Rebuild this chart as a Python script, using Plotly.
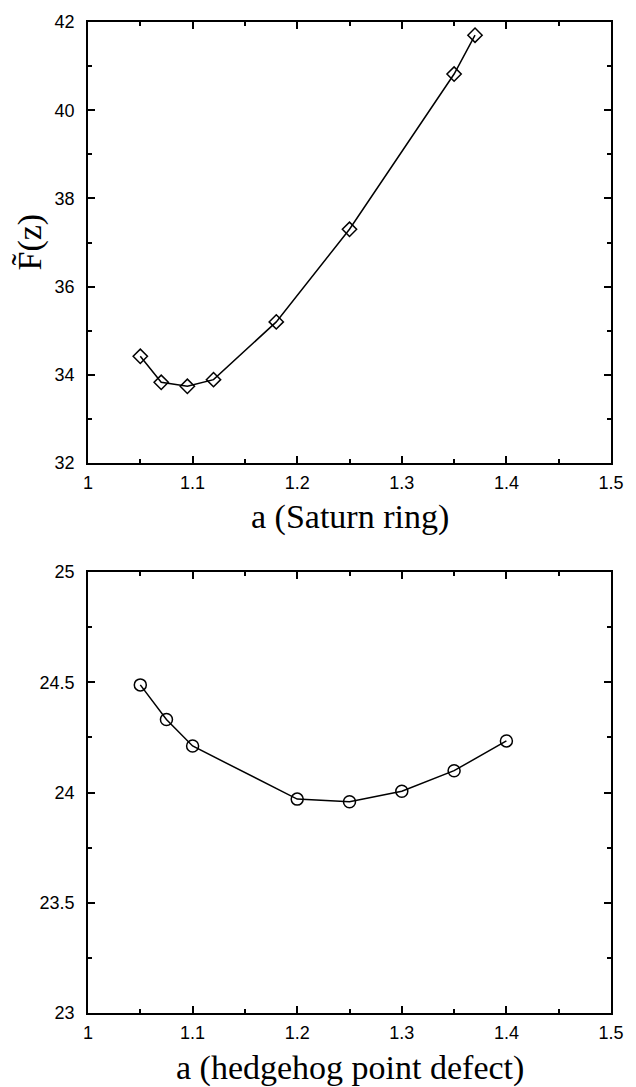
import plotly.graph_objects as go

# Top panel: Saturn ring
a_saturn = [1.05, 1.07, 1.095, 1.12, 1.18, 1.25, 1.35, 1.37]
F_saturn = [34.42, 33.83, 33.74, 33.89, 35.20, 37.30, 40.82, 41.70]

# Bottom panel: hedgehog point defect
a_hedgehog = [1.05, 1.075, 1.1, 1.2, 1.25, 1.3, 1.35, 1.4]
F_hedgehog = [24.488, 24.331, 24.211, 23.970, 23.958, 24.006, 24.099, 24.234]

x_ticks = [1, 1.1, 1.2, 1.3, 1.4, 1.5]
x_ticklabels = ["1", "1.1", "1.2", "1.3", "1.4", "1.5"]
top_y_ticks = [32, 34, 36, 38, 40, 42]
bot_y_ticks = [23, 23.5, 24, 24.5, 25]
bot_y_ticklabels = ["23", "23.5", "24", "24.5", "25"]

fig = go.Figure()
fig.add_trace(go.Scatter(
    x=a_saturn, y=F_saturn, mode="lines+markers",
    line=dict(color="black", width=1.5),
    marker=dict(symbol="diamond-open", size=11, color="black", line=dict(width=1.5)),
    xaxis="x", yaxis="y", showlegend=False))
fig.add_trace(go.Scatter(
    x=a_hedgehog, y=F_hedgehog, mode="lines+markers",
    line=dict(color="black", width=1.5),
    marker=dict(symbol="circle-open", size=12, color="black", line=dict(width=1.5)),
    xaxis="x2", yaxis="y2", showlegend=False))

tickfont = dict(family="Liberation Sans, Arial, sans-serif", size=18, color="black")
common_x = dict(range=[1, 1.5], tickvals=x_ticks, ticktext=x_ticklabels,
                ticks="inside", ticklen=7, tickwidth=1.5, tickcolor="black",
                showline=True, linecolor="black", linewidth=1.5, mirror="ticks",
                showgrid=False, zeroline=False, tickfont=tickfont,
                ticklabelstandoff=3,
                minor=dict(dtick=0.05, tick0=1, ticks="inside", ticklen=4,
                           tickwidth=1.5, tickcolor="black", showgrid=False))
common_y = dict(ticks="inside", ticklen=7, tickwidth=1.5, tickcolor="black",
                showline=True, linecolor="black", linewidth=1.5, mirror="ticks",
                showgrid=False, zeroline=False, tickfont=tickfont,
                ticklabelstandoff=8)

fig.update_layout(
    width=636, height=1087,
    margin=dict(l=88, r=14, t=13, b=74),
    paper_bgcolor="white", plot_bgcolor="white",
    xaxis=dict(domain=[0, 1], anchor="y", **common_x),
    yaxis=dict(domain=[0.555, 1], anchor="x", range=[32, 42], tickvals=top_y_ticks,
               minor=dict(dtick=1, tick0=32, ticks="inside", ticklen=4,
                          tickwidth=1.5, tickcolor="black", showgrid=False),
               **common_y),
    xaxis2=dict(domain=[0, 1], anchor="y2", **common_x),
    yaxis2=dict(domain=[0, 0.445], anchor="x2", range=[23, 25], tickvals=bot_y_ticks,
                ticktext=bot_y_ticklabels,
                minor=dict(dtick=0.25, tick0=23, ticks="inside", ticklen=4,
                           tickwidth=1.5, tickcolor="black", showgrid=False),
                **common_y),
)

serif = dict(family="Liberation Serif, Times New Roman, serif", size=34, color="black")
fig.add_annotation(text="a (Saturn ring)", xref="paper", yref="paper",
                   x=0.5, y=0.555, yshift=-54, showarrow=False, font=serif,
                   xanchor="center", yanchor="middle")
fig.add_annotation(text="a (hedgehog point defect)", xref="paper", yref="paper",
                   x=0.5, y=0, yshift=-55, showarrow=False, font=serif,
                   xanchor="center", yanchor="middle")
fig.add_annotation(text="F\u0303(z)", xref="paper", yref="paper",
                   x=0, xshift=-58, y=0.7775, showarrow=False, font=serif,
                   textangle=-90, xanchor="center", yanchor="middle")

fig.write_html("out.html",
               config={"displayModeBar": False},
               post_script="document.body.style.margin='0';document.body.style.overflow='hidden';")
